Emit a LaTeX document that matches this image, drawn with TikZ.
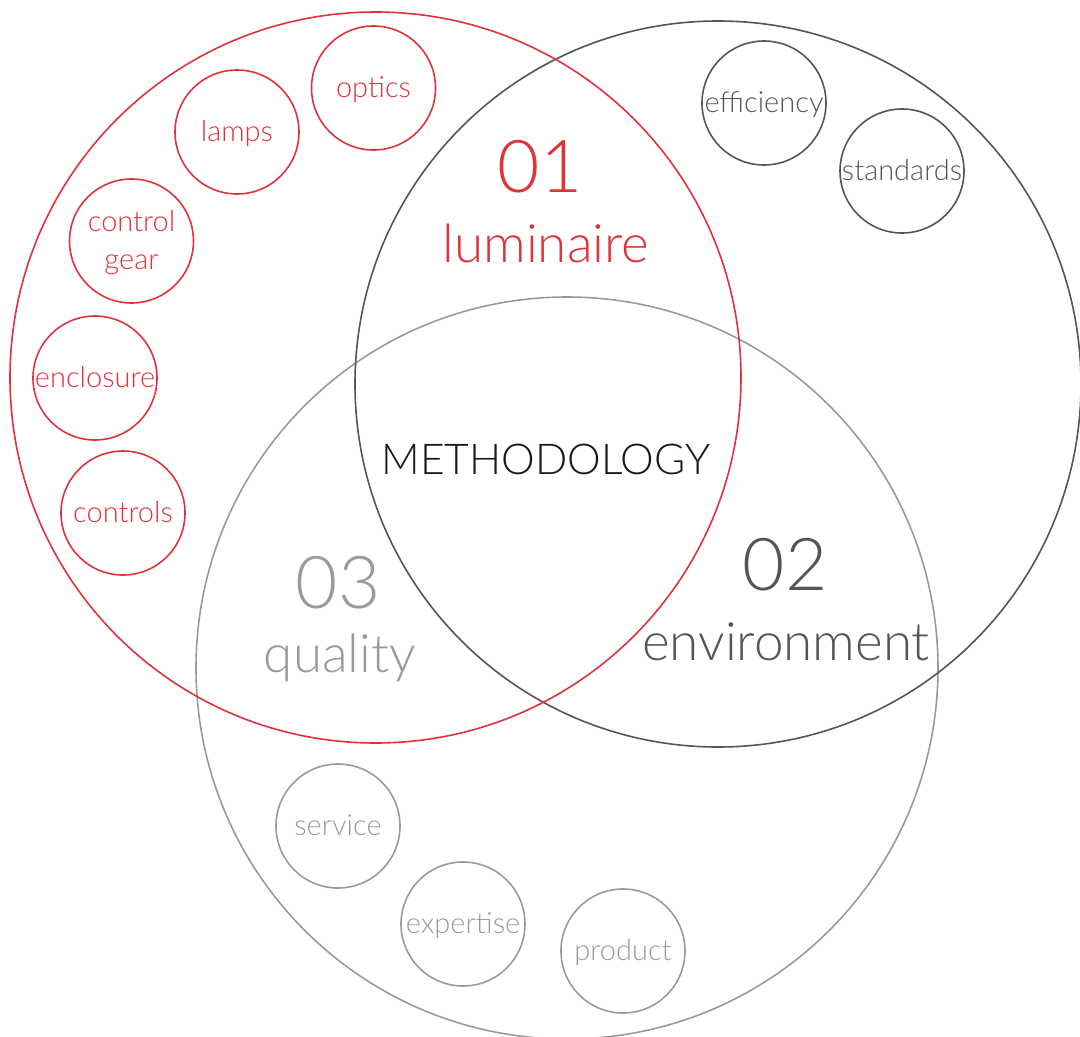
\documentclass[tikz,border=0pt]{standalone}
\usepackage{fontspec}
\setmainfont{Lato Light}
\definecolor{lred}{HTML}{E0323A}
\definecolor{dgray}{HTML}{555555}
\definecolor{lgray}{HTML}{9A9A9A}
\begin{document}
\begin{tikzpicture}[x=1pt,y=-1pt,
  bigc/.style={circle,draw,line width=1.6pt,inner sep=0pt,minimum size=#1},
  smallc/.style={circle,draw,line width=1.6pt,inner sep=0pt,minimum size=124pt,
    text height=19pt,text depth=0pt,font=\fontsize{29}{34}\selectfont},
  numtxt/.style={anchor=base,inner sep=0pt,font=\fontsize{73}{80}\selectfont},
  wordtxt/.style={anchor=base,inner sep=0pt,font=\fontsize{53}{60}\selectfont}]
\useasboundingbox (0,0) rectangle (1080,1037);
% big circles
\node[bigc=742pt,draw=lgray] (quality) at (567,668) {};
\node[bigc=726pt,draw=dgray] (environment) at (718,384) {};
\node[bigc=731pt,draw=lred] (luminaire) at (375.5,377.5) {};
% labels
\node[numtxt,text=lred] (n01) at (540,192) {01};
\node[wordtxt,text=lred] (t01) at (546,262) {luminaire};
\node[numtxt,text=dgray] (n02) at (785,590) {02};
\node[wordtxt,text=dgray] (t02) at (786,660) {environment};
\node[numtxt,text=lgray] (n03) at (338,608) {03};
\node[wordtxt,text=lgray] (t03) at (340,672) {quality};
\node[anchor=base,inner sep=0pt,font=\fontsize{42.5}{50}\selectfont,text=black!90] (meth) at (546,474) {METHODOLOGY};
% small red circles
\node[smallc,draw=lred,text=lred] (optics) at (373.5,88) {optics};
\node[smallc,draw=lred,text=lred] (lamps) at (237,132) {lamps};
\node[smallc,draw=lred] (cgear) at (131.5,241) {};
\node[inner sep=0pt,align=center,text=lred,font=\fontsize{29}{38}\selectfont] (cgeartxt) at (131.5,243) {control\\gear};
\node[smallc,draw=lred,text=lred] (enclosure) at (95,378) {enclosure};
\node[smallc,draw=lred,text=lred] (controls) at (123,513) {controls};
% small dark circles
\node[smallc,draw=dgray,text=dgray] (efficiency) at (764,103) {efficiency};
\node[smallc,draw=dgray,text=dgray] (standards) at (902,171) {standards};
% small light circles
\node[smallc,draw=lgray,text=lgray] (service) at (338,826) {service};
\node[smallc,draw=lgray,text=lgray] (expertise) at (463,924) {expertise};
\node[smallc,draw=lgray,text=lgray] (product) at (623,951) {product};
\end{tikzpicture}
\end{document}
